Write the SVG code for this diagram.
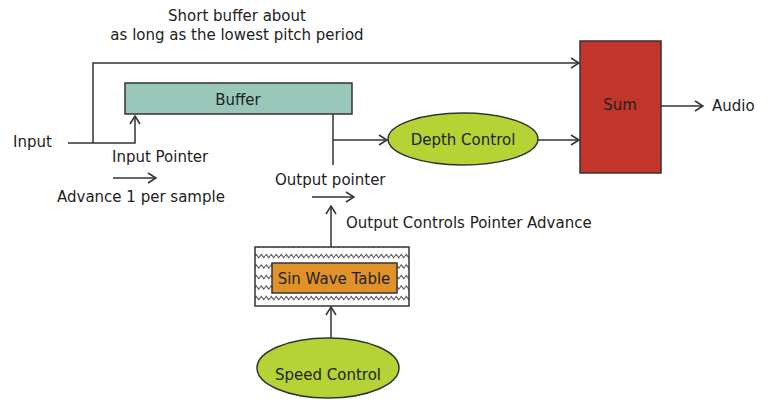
<svg xmlns="http://www.w3.org/2000/svg" width="773" height="400" viewBox="0 0 773 400">
<defs>
<style>
text{font-family:"DejaVu Sans","Liberation Sans",sans-serif;font-size:15px;fill:#222}
.c{text-anchor:middle}
.ln{fill:none;stroke:#333;stroke-width:1.5}
.box{stroke:#333;stroke-width:1.5}
</style>
<marker id="ar" markerWidth="10" markerHeight="12" refX="9" refY="6" orient="auto" markerUnits="userSpaceOnUse">
<path d="M1,1 L9,6 L1,11" fill="none" stroke="#333" stroke-width="1.5"/>
</marker>
<pattern id="zz" x="0" y="251" width="5" height="10.5" patternUnits="userSpaceOnUse">
<path d="M0,5 L1.25,3.5 L2.5,5 L3.75,6.5 L5,5" fill="none" stroke="#333" stroke-width="1"/>
</pattern>
</defs>
<rect width="773" height="400" fill="#fff"/>
<g id="title">
<text class="c" x="237" y="21">Short buffer about</text>
<text class="c" x="237" y="40">as long as the lowest pitch period</text>
</g>
<g id="connectors">
<path class="ln" d="M68,143 H135 V116" marker-end="url(#ar)"/>
<path class="ln" d="M93,143 V63 H579" marker-end="url(#ar)"/>
<path class="ln" d="M333,114 V165"/>
<path class="ln" d="M333,140 H387" marker-end="url(#ar)"/>
<path class="ln" d="M538,140 H579" marker-end="url(#ar)"/>
<path class="ln" d="M661,106 H703" marker-end="url(#ar)"/>
<path class="ln" d="M331,247 V206" marker-end="url(#ar)"/>
<path class="ln" d="M331,338 V307" marker-end="url(#ar)"/>
<path class="ln" d="M113,178 H156" marker-end="url(#ar)"/>
<path class="ln" d="M312,197 H354" marker-end="url(#ar)"/>
</g>
<g id="input"><text x="13" y="147">Input</text></g>
<g id="input-pointer-label">
<text x="112" y="162">Input Pointer</text>
<text x="57" y="202">Advance 1 per sample</text>
</g>
<g id="output-pointer-label">
<text x="275" y="185">Output pointer</text>
<text x="346" y="228">Output Controls Pointer Advance</text>
</g>
<g id="buffer">
<rect class="box" x="125" y="83" width="227" height="31" fill="#99c8bb"/>
<text class="c" x="238" y="105">Buffer</text>
</g>
<g id="depth-control">
<ellipse class="box" cx="463" cy="139" rx="75" ry="26" fill="#b5d334"/>
<text class="c" x="463" y="145">Depth Control</text>
</g>
<g id="sum">
<rect class="box" x="580" y="41" width="81" height="132" fill="#c1352a"/>
<text class="c" x="620" y="110">Sum</text>
</g>
<g id="audio"><text x="712" y="111">Audio</text></g>
<g id="sin-wave-table">
<rect class="box" x="255" y="247" width="154" height="59" fill="url(#zz)"/>
<rect class="box" x="272" y="263" width="125" height="30" fill="#e0922a"/>
<text class="c" x="334" y="284">Sin Wave Table</text>
</g>
<g id="speed-control">
<ellipse class="box" cx="328" cy="368" rx="71" ry="30" fill="#b5d334"/>
<text class="c" x="328" y="380">Speed Control</text>
</g>
</svg>
